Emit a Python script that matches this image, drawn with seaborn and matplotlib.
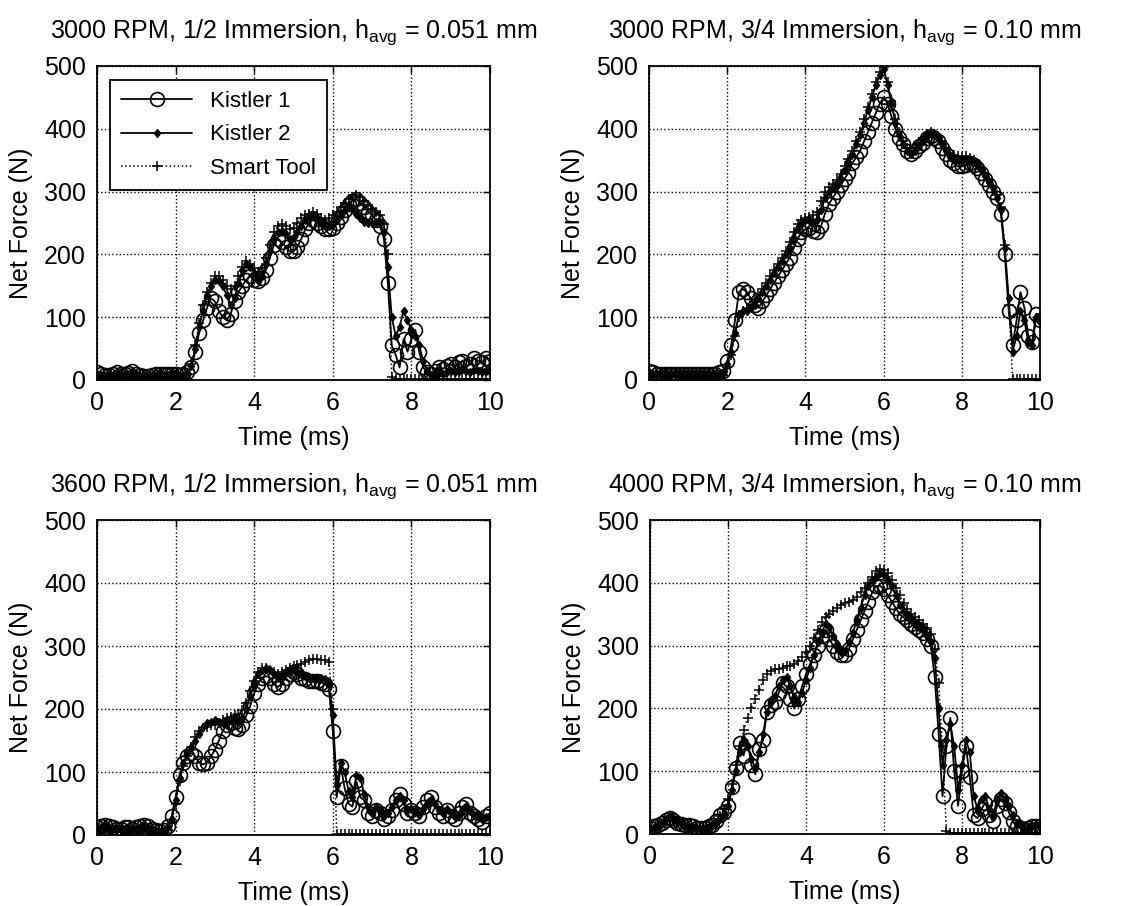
import numpy as np
import pandas as pd
import seaborn as sns
import matplotlib.pyplot as plt

# -------------------------------------------------------------------
# Data (read off the reference, sampled every 0.1 ms)
# -------------------------------------------------------------------
time_ms = np.round(np.linspace(0, 10, 101), 1)

titles = [
    r"3000 RPM, 1/2 Immersion, h$_{\mathrm{avg}}$ = 0.051 mm",
    r"3000 RPM, 3/4 Immersion, h$_{\mathrm{avg}}$ = 0.10 mm",
    r"3600 RPM, 1/2 Immersion, h$_{\mathrm{avg}}$ = 0.051 mm",
    r"4000 RPM, 3/4 Immersion, h$_{\mathrm{avg}}$ = 0.10 mm",
]
series_names = ["Kistler 1", "Kistler 2", "Smart Tool"]

# 3000 RPM, 1/2 immersion
k1_a = [12, 10, 8, 8, 9, 12, 10, 9, 11, 14,
        10, 8, 7, 6, 8, 9, 10, 10, 9, 10,
        10, 8, 9, 12, 20, 45, 75, 95, 115, 130,
        125, 110, 100, 95, 105, 125, 140, 150, 160, 165,
        160, 158, 162, 175, 195, 215, 225, 220, 212, 205,
        205, 212, 225, 240, 250, 255, 250, 245, 240, 240,
        242, 250, 260, 270, 280, 285, 288, 282, 275, 268,
        262, 255, 245, 225, 155, 55, 40, 20, 65, 45,
        65, 80, 45, 20, 12, 10, 15, 20, 18, 22,
        25, 20, 28, 30, 22, 25, 35, 30, 28, 35,
        30]
k2_a = [10, 8, 7, 8, 8, 10, 9, 8, 10, 12,
        9, 7, 6, 6, 7, 8, 9, 8, 8, 9,
        9, 7, 8, 10, 22, 50, 85, 110, 135, 150,
        160, 158, 150, 135, 120, 130, 155, 175, 185, 180,
        170, 160, 165, 185, 205, 225, 235, 238, 232, 225,
        228, 235, 245, 255, 260, 262, 258, 250, 245, 245,
        248, 255, 262, 270, 275, 272, 265, 258, 252, 250,
        250, 252, 250, 235, 180, 100, 70, 85, 110, 95,
        80, 70, 55, 30, 15, 8, 10, 12, 10, 12,
        14, 12, 15, 18, 14, 12, 16, 14, 12, 15,
        12]
st_a = [5, 4, 3, 4, 5, 5, 4, 4, 5, 6,
        5, 4, 3, 3, 4, 4, 5, 5, 4, 5,
        5, 5, 6, 10, 25, 55, 90, 120, 140, 155,
        165, 165, 160, 150, 145, 150, 165, 180, 190, 185,
        178, 172, 178, 195, 215, 235, 245, 248, 245, 240,
        242, 250, 258, 262, 265, 268, 265, 258, 255, 258,
        262, 268, 275, 282, 288, 292, 295, 292, 285, 278,
        272, 268, 262, 248, 200, 5, 2, 2, 2, 2,
        2, 2, 2, 2, 2, 2, 2, 2, 2, 2,
        2, 2, 2, 2, 2, 2, 2, 2, 2, 2,
        2]

# 3000 RPM, 3/4 immersion
k1_b = [15, 12, 10, 10, 10, 10, 10, 10, 10, 10,
        10, 10, 10, 10, 10, 10, 10, 10, 12, 15,
        30, 55, 95, 140, 145, 140, 130, 120, 115, 125,
        135, 145, 155, 165, 175, 185, 195, 210, 225, 235,
        240, 242, 238, 235, 245, 265, 280, 290, 300, 310,
        320, 330, 345, 355, 365, 380, 395, 410, 425, 440,
        450, 440, 420, 400, 385, 375, 365, 360, 365, 372,
        378, 385, 388, 385, 380, 370, 360, 350, 345, 340,
        340, 342, 345, 342, 338, 330, 320, 310, 300, 290,
        265, 200, 110, 55, 95, 140, 115, 70, 60, 105,
        95]
k2_b = [12, 10, 9, 9, 9, 9, 9, 9, 9, 9,
        9, 9, 9, 9, 9, 9, 9, 9, 10, 12,
        25, 45, 75, 105, 110, 110, 115, 120, 130, 140,
        150, 160, 170, 180, 190, 200, 210, 225, 240, 250,
        255, 255, 252, 255, 270, 290, 300, 305, 310, 320,
        335, 345, 360, 375, 390, 410, 430, 450, 470, 485,
        495, 470, 440, 410, 390, 375, 365, 360, 365, 372,
        380, 388, 392, 390, 385, 375, 365, 355, 350, 350,
        350, 352, 350, 348, 342, 335, 325, 315, 305, 290,
        270, 210, 130, 45, 70, 110, 95, 60, 55, 100,
        92]
st_b = [6, 5, 5, 5, 5, 5, 5, 5, 5, 5,
        5, 5, 5, 5, 5, 5, 5, 5, 6, 8,
        20, 40, 70, 100, 110, 115, 120, 125, 135, 145,
        155, 165, 175, 185, 195, 205, 220, 235, 248, 255,
        258, 260, 262, 268, 285, 300, 308, 312, 318, 328,
        340, 352, 365, 380, 395, 415, 435, 455, 475, 490,
        498, 475, 445, 415, 395, 380, 370, 365, 370, 378,
        385, 392, 395, 392, 388, 380, 370, 362, 358, 356,
        355, 356, 354, 350, 345, 338, 328, 318, 308, 295,
        275, 215, 120, 2, 2, 2, 2, 2, 2, 2,
        2]

# 3600 RPM, 1/2 immersion
k1_c = [12, 14, 16, 15, 12, 10, 10, 12, 12, 10,
        12, 15, 16, 14, 10, 8, 6, 8, 15, 30,
        60, 95, 115, 125, 130, 125, 115, 112, 115, 125,
        135, 150, 165, 175, 178, 170, 168, 175, 190, 205,
        225, 240, 250, 252, 250, 240, 235, 240, 250, 255,
        258, 255, 250, 248, 245, 245, 245, 242, 240, 232,
        165, 60, 110, 75, 50, 45, 85, 60, 55, 35,
        30, 40, 35, 25, 30, 40, 55, 65, 50, 35,
        40, 35, 30, 45, 55, 60, 45, 35, 30, 40,
        30, 25, 35, 45, 50, 35, 30, 25, 20, 30,
        35]
k2_c = [10, 12, 14, 13, 11, 9, 9, 10, 11, 9,
        10, 13, 14, 12, 9, 7, 5, 7, 12, 25,
        55, 90, 115, 130, 140, 150, 160, 172, 178, 180,
        182, 180, 178, 178, 182, 185, 180, 185, 200, 220,
        240, 255, 262, 265, 262, 255, 250, 252, 258, 262,
        262, 258, 255, 252, 250, 250, 250, 250, 248, 240,
        190, 80, 115, 100, 70, 60, 95, 90, 65, 45,
        35, 45, 40, 30, 35, 45, 55, 62, 55, 40,
        42, 38, 32, 42, 50, 55, 50, 40, 35, 42,
        35, 28, 32, 40, 45, 38, 32, 28, 25, 28,
        30]
st_c = [5, 6, 7, 6, 5, 4, 4, 5, 5, 4,
        5, 6, 7, 5, 4, 3, 3, 4, 8, 20,
        50, 85, 110, 125, 140, 155, 165, 170, 172, 175,
        175, 178, 182, 185, 188, 190, 192, 198, 210, 228,
        245, 258, 265, 265, 262, 258, 255, 258, 262, 265,
        268, 270, 272, 275, 278, 280, 280, 278, 278, 275,
        200, 2, 2, 2, 2, 2, 2, 2, 2, 2,
        2, 2, 2, 2, 2, 2, 2, 2, 2, 2,
        2, 2, 2, 2, 2, 2, 2, 2, 2, 2,
        2, 2, 2, 2, 2, 2, 2, 2, 2, 2,
        2]

# 4000 RPM, 3/4 immersion
k1_d = [10, 12, 15, 18, 22, 25, 22, 18, 16, 15,
        14, 12, 10, 10, 10, 12, 15, 20, 30, 35,
        45, 75, 105, 145, 125, 150, 110, 95, 135, 150,
        195, 205, 210, 225, 240, 235, 215, 200, 215, 235,
        255, 270, 285, 300, 315, 325, 310, 300, 290, 285,
        285, 295, 310, 325, 340, 355, 370, 385, 395, 395,
        390, 380, 370, 360, 350, 345, 340, 335, 330, 325,
        320, 310, 300, 250, 160, 60, 140, 185, 100, 45,
        100, 140, 90, 30, 25, 40, 50, 30, 20, 45,
        55, 50, 35, 20, 12, 10, 8, 10, 12, 12,
        12]
k2_d = [8, 10, 14, 18, 24, 28, 25, 20, 17, 15,
        13, 11, 9, 8, 9, 11, 14, 18, 25, 32,
        45, 70, 100, 130, 150, 140, 120, 105, 130, 160,
        195, 210, 220, 235, 245, 250, 235, 215, 210, 225,
        245, 265, 285, 305, 320, 335, 330, 315, 300, 290,
        292, 305, 320, 340, 360, 380, 395, 405, 410, 415,
        412, 405, 395, 380, 365, 355, 348, 342, 335, 330,
        325, 315, 305, 280, 200, 110, 150, 175, 140, 70,
        110, 150, 130, 60, 40, 55, 60, 40, 30, 55,
        65, 55, 45, 30, 18, 12, 8, 10, 12, 14,
        14]
st_d = [6, 8, 12, 16, 20, 22, 20, 16, 14, 12,
        10, 8, 7, 6, 6, 8, 12, 18, 28, 40,
        55, 80, 110, 140, 165, 185, 200, 215, 230, 245,
        255, 260, 262, 262, 265, 268, 268, 270, 275, 282,
        290, 300, 312, 325, 338, 345, 350, 355, 360, 365,
        368, 370, 372, 378, 385, 392, 400, 410, 418, 422,
        420, 415, 405, 392, 380, 368, 358, 350, 345, 340,
        335, 328, 318, 295, 240, 140, 5, 2, 2, 2,
        2, 2, 2, 2, 2, 2, 2, 2, 2, 2,
        2, 2, 2, 2, 2, 2, 2, 2, 2, 2,
        2]

panels = [(k1_a, k2_a, st_a), (k1_b, k2_b, st_b),
          (k1_c, k2_c, st_c), (k1_d, k2_d, st_d)]

# -------------------------------------------------------------------
# Style (MATLAB-like, black and white)
# -------------------------------------------------------------------
sns.set_style("white")
plt.rcParams["font.family"] = ["Liberation Sans", "DejaVu Sans"]
plt.rcParams["mathtext.fontset"] = "custom"
plt.rcParams["mathtext.rm"] = "Liberation Sans"
plt.rcParams["font.size"] = 18
plt.rcParams["text.color"] = "black"
plt.rcParams["axes.labelcolor"] = "black"
plt.rcParams["xtick.color"] = "black"
plt.rcParams["ytick.color"] = "black"

# line properties applied after seaborn draws each series
line_styles = {
    "Kistler 1": dict(marker="o", markersize=10, markerfacecolor="none",
                      markeredgecolor="black", markeredgewidth=1.2,
                      linestyle="-", linewidth=1.3),
    "Kistler 2": dict(marker="d", markersize=4.5, markerfacecolor="black",
                      markeredgecolor="black", markeredgewidth=1.0,
                      linestyle="-", linewidth=1.3),
    "Smart Tool": dict(marker="+", markersize=7, markeredgecolor="black",
                       markeredgewidth=1.1, linestyle=":", linewidth=1.1),
}

fig = plt.figure(figsize=(11.24, 9.06), dpi=100)
W, H = 1124, 906
boxes = [(97, 66, 490, 380), (649, 66, 1040, 380),
         (97, 520, 490, 835), (650, 520, 1040, 834)]

for i, (box, title, vals) in enumerate(zip(boxes, titles, panels)):
    x0, y0, x1, y1 = box
    ax = fig.add_axes([x0 / W, 1 - y1 / H, (x1 - x0) / W, (y1 - y0) / H])
    for name, v in zip(series_names, vals):
        df = pd.DataFrame({"time": time_ms, "force": v})
        sns.lineplot(data=df, x="time", y="force", ax=ax, color="black",
                     label=name, legend=False)
        ax.lines[-1].set(**line_styles[name])

    ax.set_xlim(0, 10)
    ax.set_ylim(0, 500)
    ax.set_xticks([0, 2, 4, 6, 8, 10])
    ax.set_yticks([0, 100, 200, 300, 400, 500])
    ax.grid(True, color="black", linestyle=":", linewidth=1.0)
    ax.tick_params(direction="in", top=True, right=True, length=5,
                   width=1, pad=8, labelsize=18)
    for s in ax.spines.values():
        s.set_color("black")
        s.set_linewidth(1.3)
    ax.set_xlabel("Time (ms)", fontsize=18, labelpad=8)
    ax.set_ylabel("Net Force (N)", fontsize=18, labelpad=8)
    ax.set_title(title, fontsize=18, pad=20)

    if i == 0:
        leg = ax.legend(loc="upper left", bbox_to_anchor=(0.033, 0.955),
                        fontsize=16, frameon=True, fancybox=False,
                        edgecolor="black", framealpha=1, handlelength=3.2,
                        borderpad=0.5, labelspacing=0.55, borderaxespad=0)
        leg.get_frame().set_linewidth(1.3)

plt.savefig("out.png", dpi=100)
